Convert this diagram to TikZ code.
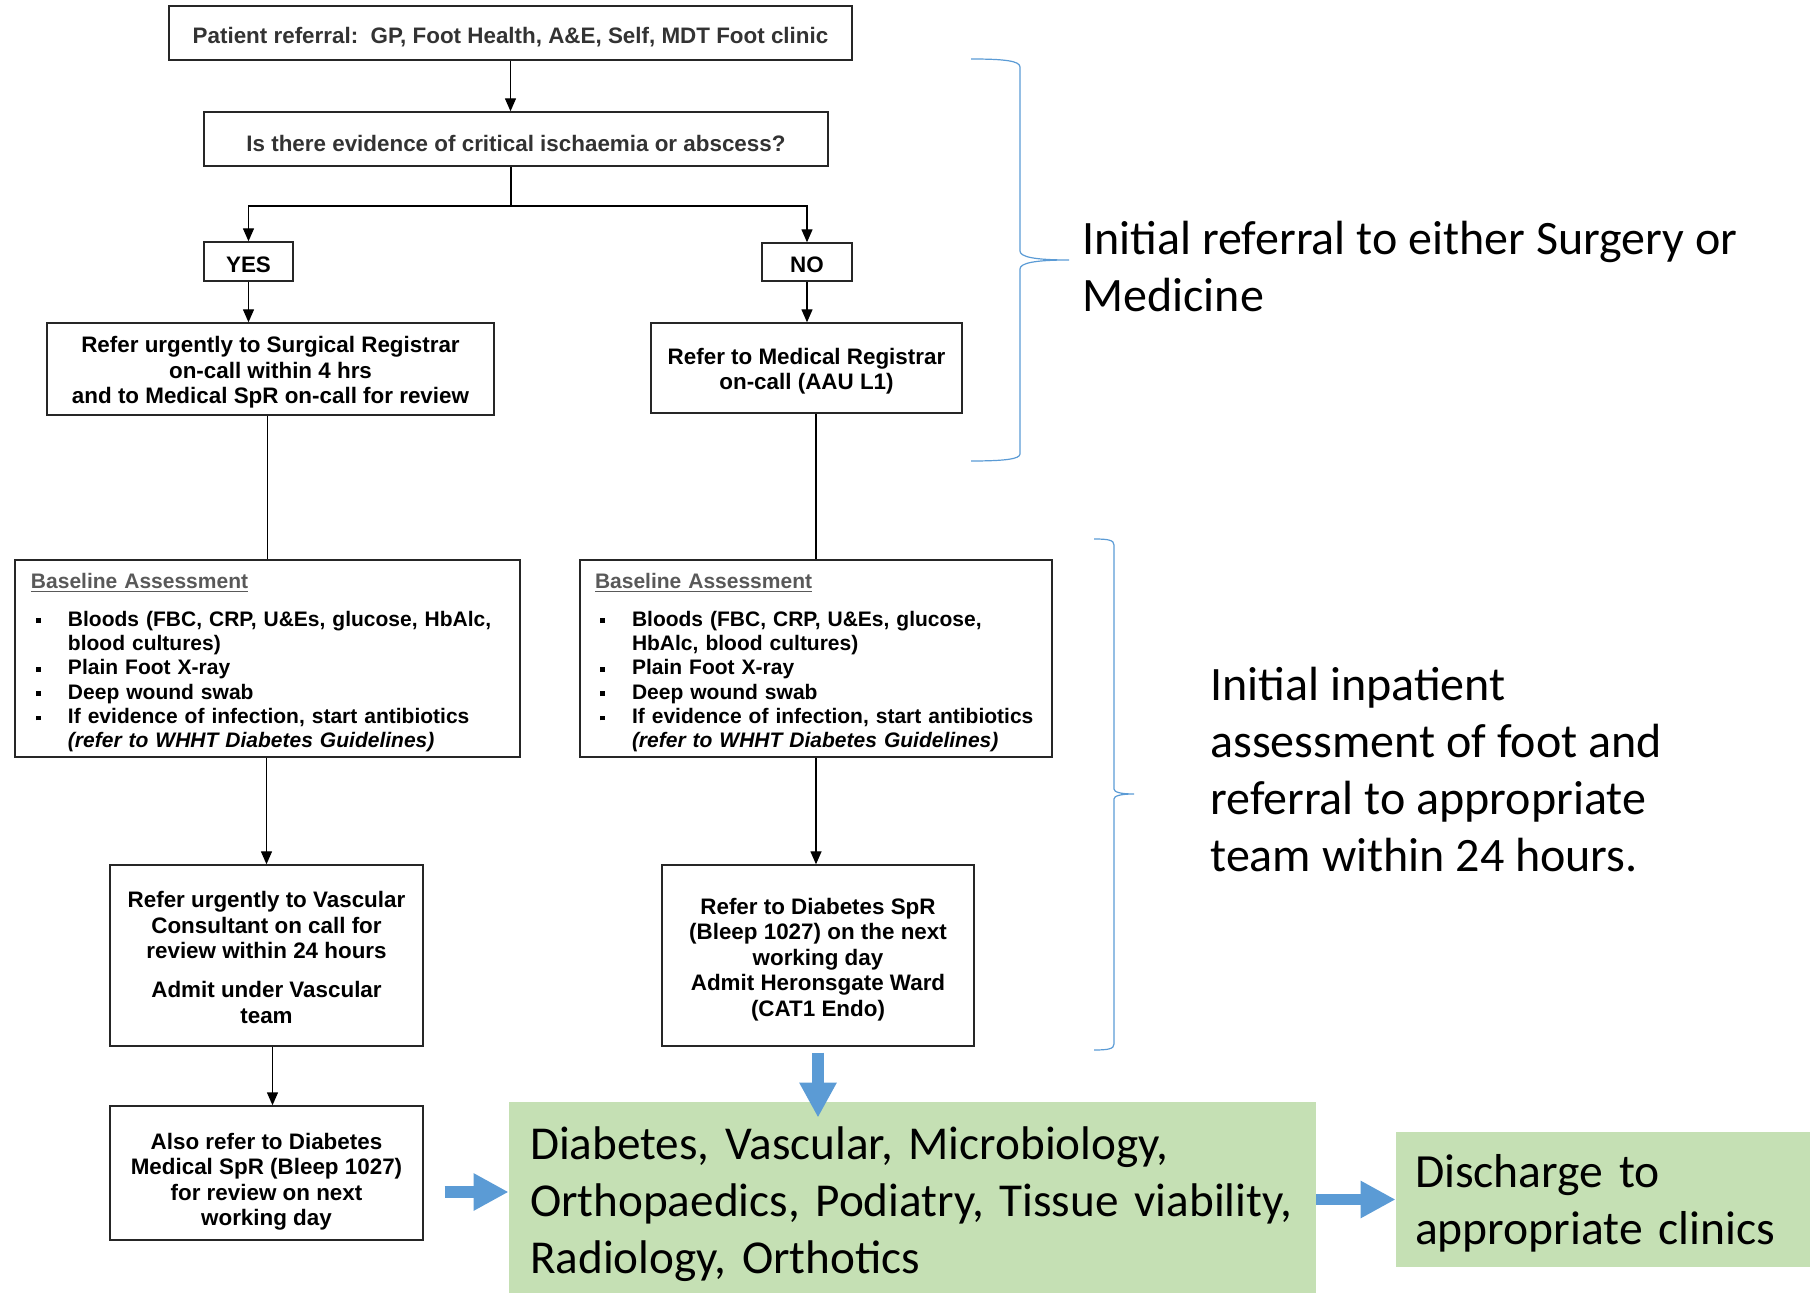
\documentclass[tikz,border=0pt]{standalone}
\usepackage{fontspec}
\setmainfont{Liberation Sans}
\newfontfamily\calibrifont{Carlito}
\usetikzlibrary{arrows.meta,calc}
\definecolor{blueacc}{HTML}{5B9BD5}
\definecolor{greenfill}{HTML}{C5E0B4}
\definecolor{titlegray}{HTML}{595959}
\newcommand{\sqbul}{\rule[0.28ex]{2.3pt}{2.3pt}}
\newcommand{\lowerby}[2]{\raisebox{-#1}[\height][\depth]{#2}}
\begin{document}
\begin{tikzpicture}[x=0.5pt,y=-0.5pt,
  box/.style={draw=black!85, line width=0.7pt, inner sep=0pt, font=\fontsize{11.2}{12.75}\selectfont\bfseries},
  arr/.style={-{Triangle[length=6.5pt,width=5.5pt]}, line width=0.7pt},
  ln/.style={line width=0.7pt},
  barrow/.style={blueacc, line width=5.75pt, -{Triangle[length=17.5pt,width=17.5pt]}},
  brace/.style={blueacc, line width=0.6pt},
  big/.style={font=\calibrifont\fontsize{24}{28.5}\selectfont, inner sep=0pt},
  gbox/.style={fill=greenfill, inner sep=0pt, align=left},
  basebox/.style={box, font=\fontsize{10.5}{12.15}\selectfont\bfseries, align=left}
]
\path[use as bounding box] (0,0) rectangle (1816,1293);

% top boxes
\node[box, minimum width=341.5pt, minimum height=27pt, text=black!80] (pat) at (510.5,33)
  {\lowerby{2.2pt}{Patient referral:\ \ GP, Foot Health, A\&E, Self, MDT Foot clinic}};
\node[box, minimum width=312pt, minimum height=27pt, text=black!80] (q) at (516,139)
  {\lowerby{2.2pt}{Is there evidence of critical ischaemia or abscess?}};
\node[box, minimum width=44.5pt, minimum height=19.5pt] (yes) at (248.5,261.5) {\lowerby{1.5pt}{YES}};
\node[box, minimum width=45pt, minimum height=19pt] (no) at (807,262) {\lowerby{1.5pt}{NO}};
\node[box, minimum width=223.5pt, minimum height=46pt] (surg) at (270.5,369)
  {\lowerby{2pt}{\begin{tabular}{@{}c@{}}Refer urgently to Surgical Registrar\\on-call within 4 hrs\\and to Medical SpR on-call for review\end{tabular}}};
\node[box, minimum width=155.5pt, minimum height=45pt] (med) at (806.5,368)
  {\lowerby{2pt}{\begin{tabular}{@{}c@{}}Refer to Medical Registrar\\on-call (AAU L1)\end{tabular}}};

% baseline assessment boxes
\node[basebox, minimum width=252.5pt, minimum height=98.5pt, text width=236.5pt] (base1) at (267.5,658.5)
  {\lowerby{2.3pt}{\begin{tabular}{@{}p{18.5pt}@{}l@{}}
  \multicolumn{2}{@{}l@{}}{\color{titlegray}\underline{Baseline Assessment}}\\[6.85pt]
  \hspace*{2.5pt}\sqbul & Bloods (FBC, CRP, U\&Es, glucose, HbAlc,\\
  & blood cultures)\\
  \hspace*{2.5pt}\sqbul & Plain Foot X-ray\\
  \hspace*{2.5pt}\sqbul & Deep wound swab\\
  \hspace*{2.5pt}\sqbul & If evidence of infection, start antibiotics\\
  & \textit{(refer to WHHT Diabetes Guidelines)}
  \end{tabular}}};
\node[basebox, minimum width=236pt, minimum height=98.5pt, text width=221pt] (base2) at (816,658.5)
  {\lowerby{2.3pt}{\begin{tabular}{@{}p{18.5pt}@{}l@{}}
  \multicolumn{2}{@{}l@{}}{\color{titlegray}\underline{Baseline Assessment}}\\[6.85pt]
  \hspace*{2.5pt}\sqbul & Bloods (FBC, CRP, U\&Es, glucose,\\
  & HbAlc, blood cultures)\\
  \hspace*{2.5pt}\sqbul & Plain Foot X-ray\\
  \hspace*{2.5pt}\sqbul & Deep wound swab\\
  \hspace*{2.5pt}\sqbul & If evidence of infection, start antibiotics\\
  & \textit{(refer to WHHT Diabetes Guidelines)}
  \end{tabular}}};

% lower boxes
\node[box, minimum width=156.5pt, minimum height=90.5pt] (vasc) at (266.5,955.5)
  {\lowerby{2.5pt}{\begin{tabular}{@{}c@{}}Refer urgently to Vascular\\Consultant on call for\\review within 24 hours\\[6.75pt]Admit under Vascular\\team\end{tabular}}};
\node[box, minimum width=156pt, minimum height=90.5pt] (diab) at (818,955.5)
  {\lowerby{2.3pt}{\begin{tabular}{@{}c@{}}Refer to Diabetes SpR\\(Bleep 1027) on the next\\working day\\Admit Heronsgate Ward\\(CAT1 Endo)\end{tabular}}};
\node[box, minimum width=156.5pt, minimum height=67pt] (also) at (266.5,1173)
  {\lowerby{4.6pt}{\begin{tabular}{@{}c@{}}Also refer to Diabetes\\Medical SpR (Bleep 1027)\\for review on next\\working day\end{tabular}}};

% green boxes
\node[gbox, font=\calibrifont\fontsize{23.6}{28.5}\selectfont, minimum width=403.5pt, minimum height=95.5pt, text width=382.5pt] (green) at (912.5,1197.5)
  {\lowerby{3.8pt}{\begin{tabular}{@{}l@{}}Diabetes, Vascular, Microbiology,\\Orthopaedics, Podiatry, Tissue viability,\\Radiology, Orthotics\end{tabular}}};
\node[gbox, font=\calibrifont\fontsize{23.8}{28.5}\selectfont, minimum width=207pt, minimum height=67.5pt, text width=188pt] (dis) at (1603,1199.5)
  {\lowerby{2.4pt}{\begin{tabular}{@{}l@{}}Discharge to\\appropriate clinics\end{tabular}}};

% side labels
\node[big, anchor=base west] (lab1) at (1082,255)
  {\begin{tabular}[t]{@{}l@{}}Initial referral to either Surgery or\\Medicine\end{tabular}};
\node[big, anchor=base west] (lab2) at (1210,701)
  {\begin{tabular}[t]{@{}l@{}}Initial inpatient\\assessment of foot and\\referral to appropriate\\team within 24 hours.\end{tabular}};

% braces
\draw[brace] (971,59) .. controls (1005,59) and (1020,61) .. (1020,67)
  -- (1020,251) .. controls (1020,257) and (1035,260) .. (1069,260)
  .. controls (1035,260) and (1020,263) .. (1020,269)
  -- (1020,454) .. controls (1020,459) and (1005,461) .. (971,461);
\draw[brace] (1094,539) .. controls (1108,539) and (1114,540) .. (1114,545)
  -- (1114,789) .. controls (1114,792) and (1120,794) .. (1134,794)
  .. controls (1120,794) and (1114,796) .. (1114,799)
  -- (1114,1044) .. controls (1114,1049) and (1108,1050) .. (1094,1050);

% connectors
\coordinate (split) at (511,206);
\draw[arr] (pat.south) -- (pat.south |- q.north);
\draw[ln] (split |- q.south) -- (split);
\draw[arr] (split) -| (yes.north);
\draw[arr] (split) -| (no.north);
\draw[arr] (yes.south) -- (yes.south |- surg.north);
\draw[arr] (no.south) -- (no.south |- med.north);
\draw[ln] (base1.north |- surg.south) -- (base1.north);
\draw[ln] (base2.north |- med.south) -- (base2.north);
\draw[arr] (vasc.north |- base1.south) -- (vasc.north);
\draw[arr] (base2.south) -- (base2.south |- diab.north);
\draw[arr] ($(vasc.south)+(6,0)$) -- ($(also.north)+(6,0)$);

% blue block arrows
\draw[barrow] ($(diab.south)+(0,6)$) -- ($(diab.south |- green.north)+(0,16)$);
\draw[barrow] ($(also.east)+(21,19)$) -- ($(green.west |- also.east)+(0,19)$);
\draw[barrow] (dis.west -| green.east) -- (dis.west);
\end{tikzpicture}
\end{document}
